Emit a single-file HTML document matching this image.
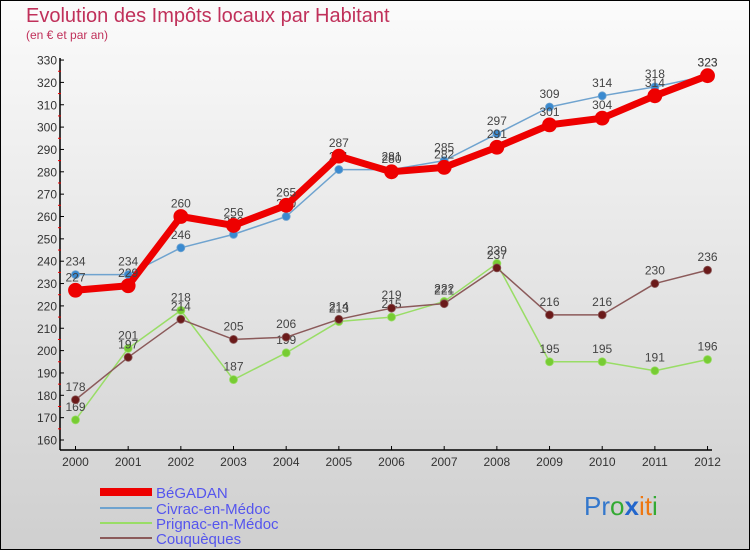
<!DOCTYPE html>
<html><head><meta charset="utf-8"><style>
body{margin:0;width:750px;height:550px;overflow:hidden;font-family:"Liberation Sans",sans-serif}
</style></head><body>
<svg id="chart" width="750" height="550" xmlns="http://www.w3.org/2000/svg">
<defs><linearGradient id="bg" x1="0" y1="0" x2="0" y2="1"><stop offset="0" stop-color="#fbfbfb"/><stop offset="1" stop-color="#cfcfcf"/></linearGradient></defs>
<rect x="0.5" y="0.5" width="749" height="549" fill="url(#bg)" stroke="#000"/>
<text x="26" y="22" font-size="20" fill="#c0305a">Evolution des Impôts locaux par Habitant</text>
<text x="26" y="39" font-size="12" fill="#c0305a">(en € et par an)</text>
<g id="axes"></g><g id="series"></g>
<g>
<rect x="100" y="488" width="52" height="8" fill="#ee0000"/>
<text x="156" y="498" font-size="15" fill="#5555ee">BéGADAN</text>
<rect x="100" y="507" width="52" height="2" fill="#6fa3cf"/>
<text x="156" y="514" font-size="15" fill="#5555ee">Civrac-en-Médoc</text>
<rect x="100" y="522" width="52" height="2" fill="#99dd66"/>
<text x="156" y="529" font-size="15" fill="#5555ee">Prignac-en-Médoc</text>
<rect x="100" y="537" width="52" height="2" fill="#8b5a5a"/>
<text x="156" y="544" font-size="15" fill="#5555ee">Couquèques</text>
</g>
<text x="584" y="515" font-size="26"><tspan fill="#3377cc">Pr</tspan><tspan fill="#33aa33">o</tspan><tspan fill="#2266cc" font-weight="bold">x</tspan><tspan fill="#ee7711">i</tspan><tspan fill="#ee7711">t</tspan><tspan fill="#33aa33">i</tspan></text>
</svg>
<script>
const years=["2000","2001","2002","2003","2004","2005","2006","2007","2008","2009","2010","2011","2012"];
const begadan=[227,229,260,256,265,287,280,282,291,301,304,314,323];
const civrac=[234,234,246,252,260,281,281,285,297,309,314,318,323];
const prignac=[169,201,218,187,199,213,215,222,239,195,195,191,196];
const couqueques=[178,197,214,205,206,214,219,221,237,216,216,230,236];
const yTicks=[160,170,180,190,200,210,220,230,240,250,260,270,280,290,300,310,320,330];
const NS="http://www.w3.org/2000/svg";
const X=i=>75.5+i*52.67, Y=v=>440-(v-160)*2.235;
function mk(tag,attrs,parent){const e=document.createElementNS(NS,tag);for(const k in attrs)e.setAttribute(k,attrs[k]);parent.appendChild(e);return e;}
const ax=document.getElementById('axes'), sg=document.getElementById('series');
let a=mk('line',{x1:60,y1:58,x2:60,y2:450,stroke:'#000','stroke-width':1.5},ax);


a=mk('line',{x1:60,y1:450,x2:712,y2:450,stroke:'#000','stroke-width':1.5},ax);


yTicks.forEach(v=>{
 mk('line',{x1:60,y1:Y(v),x2:64,y2:Y(v),stroke:'#000'},ax);
 if(v<330) mk('line',{x1:58,y1:Y(v+5),x2:61,y2:Y(v+5),stroke:'#e00'},ax);
 const t=mk('text',{x:57,y:Y(v)+4.5,'font-size':12,fill:'#333','text-anchor':'end'},ax);t.textContent=v;
 
 
});
years.forEach((y,i)=>{
 mk('line',{x1:X(i),y1:446,x2:X(i),y2:450,stroke:'#000'},ax);
 const t=mk('text',{x:X(i),y:466,'font-size':12,fill:'#333','text-anchor':'middle'},ax);t.textContent=y;
 
 
});
function draw(data,name,color,lw,r,dot){
 const g=mk('g',{},sg);
 
 
 mk('polyline',{points:data.map((v,i)=>X(i)+','+Y(v)).join(' '),fill:'none',stroke:color,'stroke-width':lw,'stroke-linejoin':'round'},g);
 data.forEach((v,i)=>{
  const c=mk('circle',{cx:X(i),cy:Y(v),r:r,fill:dot,stroke:color,'stroke-width':0.8},g);
  
  
  const t=mk('text',{x:X(i),y:Y(v)-9,'font-size':12,fill:'#444','text-anchor':'middle'},g);t.textContent=v;
  
  
 });
}
draw(prignac,'prignac','#99dd66',1.5,4,'#77cc33');
draw(couqueques,'couqueques','#8b5a5a',1.5,4,'#6b1a1a');
draw(civrac,'civrac','#6fa3cf',1.5,4,'#3a8ad0');
draw(begadan,'begadan','#ee0000',7,7,'#ee0000');
</script>
</body></html>
